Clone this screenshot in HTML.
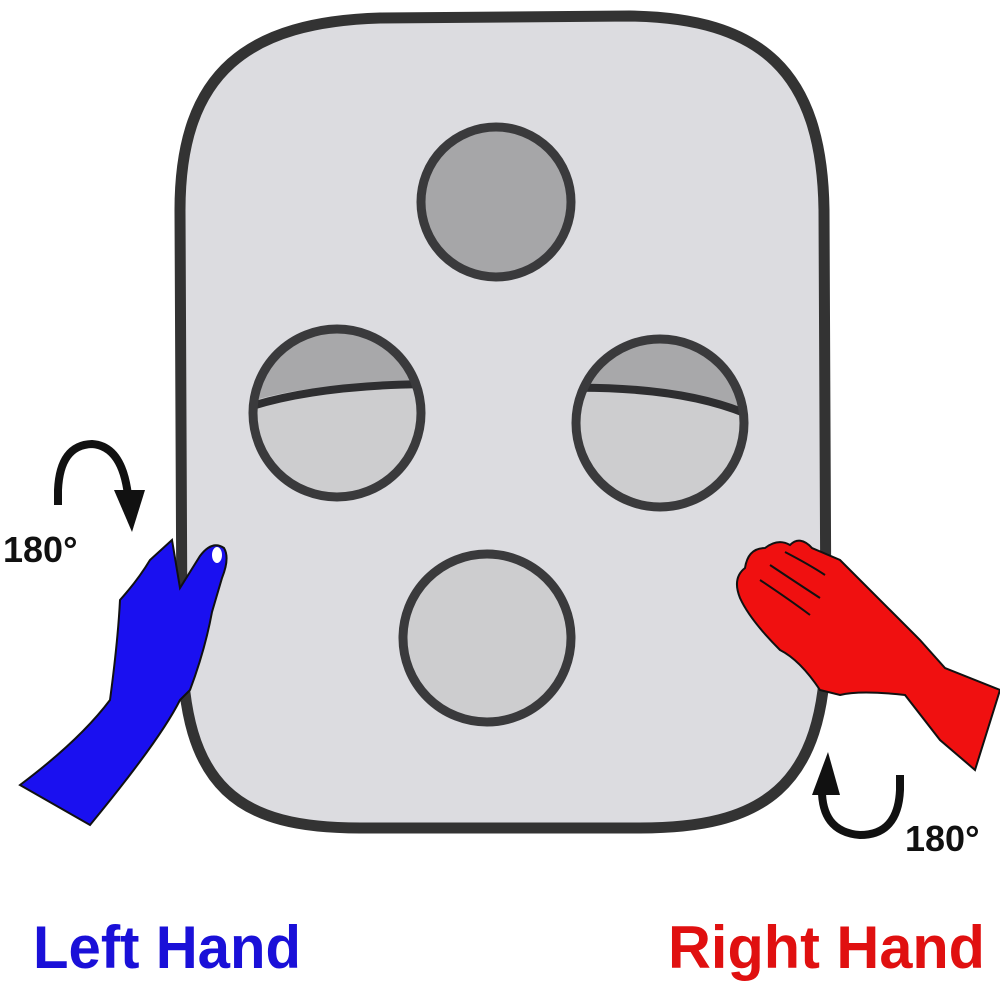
<!DOCTYPE html>
<html><head><style>html,body{margin:0;padding:0;background:#fff}svg{display:block}</style></head>
<body>
<svg width="1000" height="1000" viewBox="0 0 1000 1000" xmlns="http://www.w3.org/2000/svg">
<defs>
<clipPath id="cl"><circle cx="337" cy="413" r="84"/></clipPath>
<clipPath id="cr"><circle cx="660" cy="423" r="84"/></clipPath>
</defs>
<!-- board -->
<path d="M180,210 C180,70 250,22 380,18 L630,16 C760,18 822,70 824,210 L826,640 C826,790 760,828 640,828 L360,828 C240,828 182,790 182,640 Z" fill="#dcdce0" stroke="#333" stroke-width="11"/>
<!-- top circle -->
<circle cx="496" cy="202" r="75" fill="#a6a6a8" stroke="#3a3a3c" stroke-width="9"/>
<!-- left circle -->
<circle cx="337" cy="413" r="84" fill="#cdcdcf"/>
<g clip-path="url(#cl)">
<path d="M240,405 Q310,380 430,384 L430,300 L240,300 Z" fill="#a8a8aa"/>
<path d="M240,410 Q310,385 430,384" fill="none" stroke="#2e2e30" stroke-width="8"/>
</g>
<circle cx="337" cy="413" r="84" fill="none" stroke="#3a3a3c" stroke-width="9"/>
<!-- right circle -->
<circle cx="660" cy="423" r="84" fill="#cdcdcf"/>
<g clip-path="url(#cr)">
<path d="M560,388 Q690,384 760,418 L760,320 L560,320 Z" fill="#a8a8aa"/>
<path d="M560,388 Q690,385 760,420" fill="none" stroke="#2e2e30" stroke-width="8"/>
</g>
<circle cx="660" cy="423" r="84" fill="none" stroke="#3a3a3c" stroke-width="9"/>
<!-- bottom circle -->
<circle cx="487" cy="638" r="84" fill="#cdcdcf" stroke="#3a3a3c" stroke-width="9"/>

<!-- left hand -->
<path d="M172,540 L180,588 L200,556 Q212,540 224,548 Q230,558 222,578 L212,612 Q205,650 190,690 L180,700 Q160,740 90,825 L20,785 Q80,740 110,700 Q118,640 120,600 Q138,580 150,560 Z" fill="#1a10f0" stroke="#111" stroke-width="2"/>
<ellipse cx="217" cy="555" rx="5" ry="8" fill="#fff"/>
<!-- left arrow -->
<path d="M58,505 L58,490 Q60,445 92,444 Q122,446 128,495" fill="none" stroke="#111" stroke-width="8"/>
<path d="M114,490 L145,490 L132,532 Z" fill="#111"/>
<text x="3" y="562" font-family="Liberation Sans, sans-serif" font-weight="bold" font-size="36" fill="#111">180°</text>

<!-- right hand -->
<path d="M790,545 Q800,535 812,548 L840,560 Q870,590 890,610 L920,640 L945,668 L1000,690 L975,770 L940,740 L905,695 Q860,690 840,695 L820,690 Q800,660 780,650 Q750,620 740,598 Q732,578 745,568 Q748,548 765,548 Q778,538 790,545 Z" fill="#f01010" stroke="#111" stroke-width="2"/>
<path d="M760,580 Q790,600 810,615 M770,565 Q800,585 820,598 M785,552 Q810,565 825,575" fill="none" stroke="#111" stroke-width="2"/>
<!-- right arrow -->
<path d="M822,785 Q820,832 860,835 Q898,835 900,790 L900,775" fill="none" stroke="#111" stroke-width="8"/>
<path d="M812,795 L840,795 L828,752 Z" fill="#111"/>
<text x="905" y="851" font-family="Liberation Sans, sans-serif" font-weight="bold" font-size="36" fill="#111">180°</text>

<text x="33" y="968" font-family="Liberation Sans, sans-serif" font-weight="bold" font-size="60" fill="#1a10d8" textLength="268" lengthAdjust="spacingAndGlyphs">Left Hand</text>
<text x="668" y="968" font-family="Liberation Sans, sans-serif" font-weight="bold" font-size="60" fill="#e01010" textLength="317" lengthAdjust="spacingAndGlyphs">Right Hand</text>
</svg>
</body></html>
